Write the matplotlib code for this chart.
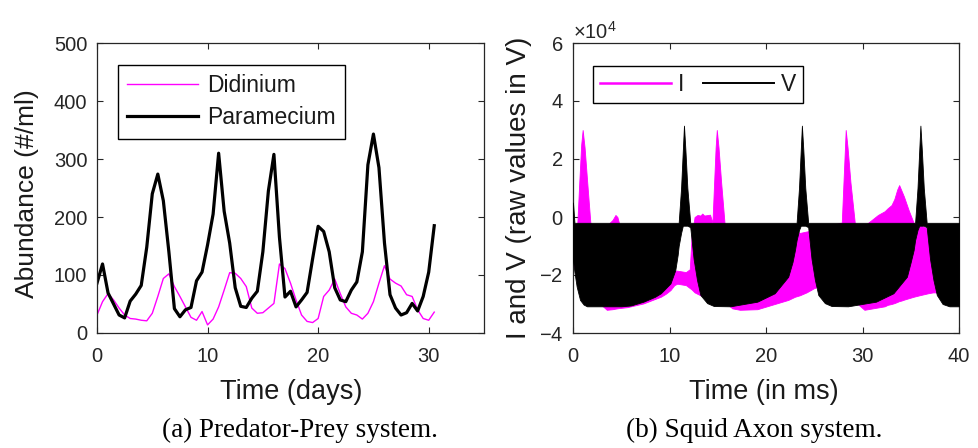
import matplotlib
matplotlib.use("Agg")
import matplotlib.pyplot as plt
from matplotlib.lines import Line2D
import numpy as np

# ---------------- data: (a) Predator-Prey ----------------
days = [0.0, 0.5, 1.0, 1.5, 2.0, 2.5, 3.0, 3.5, 4.0, 4.5,
        5.0, 5.5, 6.0, 6.5, 7.0, 7.5, 8.0, 8.5, 9.0, 9.5,
        10.0, 10.5, 11.0, 11.5, 12.0, 12.5, 13.0, 13.5, 14.0, 14.5,
        15.0, 15.5, 16.0, 16.5, 17.0, 17.5, 18.0, 18.5, 19.0, 19.5,
        20.0, 20.5, 21.0, 21.5, 22.0, 22.5, 23.0, 23.5, 24.0, 24.5,
        25.0, 25.5, 26.0, 26.5, 27.0, 27.5, 28.0, 28.5, 29.0, 29.5,
        30.0, 30.5]
didinium = [31, 54, 68, 57, 43, 31, 25, 24, 22, 21,
            34, 63, 94, 102, 80, 63, 45, 27, 22, 37,
            14, 24, 45, 74, 104, 103, 94, 80, 43, 34,
            35, 43, 51, 119, 111, 86, 57, 31, 20, 18,
            25, 63, 74, 93, 68, 45, 34, 31, 24, 34,
            54, 86, 116, 93, 86, 81, 66, 63, 40, 25,
            22, 36]
paramecium = [86, 119, 69, 50, 31, 26, 55, 67, 82, 148,
              240, 274, 228, 140, 42, 28, 40, 44, 90, 105,
              152, 205, 310, 210, 155, 78, 46, 44, 60, 72,
              140, 245, 308, 165, 62, 72, 45, 57, 70, 128,
              184, 175, 140, 78, 57, 54, 74, 88, 140, 290,
              343, 285, 155, 66, 43, 31, 35, 51, 38, 63,
              105, 185]

# ---------------- data: (b) Squid Axon (envelopes of the dense oscillation, x1e4) ----------------
t_I = [0.0, 0.3, 0.45, 0.65, 0.85, 1.0, 1.2, 1.45, 1.8, 2.0, 3.0, 3.5, 4.1, 4.4, 4.6, 4.8,
       5.6, 7.3, 9.1, 9.6, 10.1, 10.5, 10.8, 11.7, 12.1, 12.3, 12.6, 12.9, 13.2, 13.4, 13.6,
       14.2, 14.45, 14.6, 14.78, 14.9, 15.08, 15.35, 15.7, 16.0, 16.5, 17.3, 19.1, 20.9, 22.3,
       23.0, 23.5, 24.2, 25.0, 25.5, 26.5, 27.7, 27.85, 28.08, 28.26, 28.45, 28.75, 29.2, 29.5,
       30.2, 31.6, 32.3, 32.6, 33.0, 33.3, 33.6, 33.8, 34.05, 34.3, 34.8, 35.3, 35.9, 36.8,
       37.3, 38.0, 40.0]
I_hi = [-1.45, -1.0, -0.2, 1.2, 2.5, 3.0, 2.4, 1.3, -0.2, -0.3, -0.3, -0.3, -0.1, 0.07, 0.0, -0.25,
        -0.3, -0.3, -0.3, -0.5, -1.2, -1.85, -1.85, -1.9, -1.8, -0.6, 0.0, 0.07, 0.05, 0.12, 0.05,
        0.08, -0.2, 1.0, 2.4, 3.0, 2.4, 1.2, -0.2, -0.3, -0.3, -0.3, -0.3, -0.3, -0.3,
        -0.45, -0.55, -0.5, -0.45, -0.4, -0.3, -0.2, -0.2, 1.6, 3.0, 2.4, 1.2, -0.2, -0.3,
        -0.3, 0.07, 0.2, 0.3, 0.41, 0.62, 0.95, 1.1, 0.9, 0.7, 0.22, -0.2, -0.28, -0.4,
        -0.45, -0.4, -0.35]
I_lo = [-1.65, -1.8, -1.8, -1.8, -1.9, -1.9, -2.0, -2.1, -2.3, -2.5, -3.05, -3.2, -3.18, -3.16, -3.15, -3.14,
        -3.11, -2.98, -2.75, -2.65, -2.52, -2.35, -2.3, -2.35, -2.45, -2.5, -2.6, -2.65, -2.7, -2.72, -2.75,
        -2.8, -2.85, -2.85, -2.85, -2.9, -2.9, -2.9, -2.95, -3.0, -3.15, -3.2, -3.18, -3.0, -2.86,
        -2.75, -2.7, -2.6, -2.45, -2.4, -2.6, -2.8, -2.8, -2.85, -2.85, -2.85, -2.9, -2.95, -3.0,
        -3.2, -3.12, -3.08, -3.03, -3.0, -2.97, -2.93, -2.9, -2.88, -2.85, -2.8, -2.75, -2.7, -2.63,
        -2.6, -2.6, -2.6]

t_V = [0.0, 0.15, 0.38, 0.73, 1.1, 1.45, 5.0, 6.0, 7.3, 8.5, 9.1, 10.1, 10.6, 10.85, 10.95,
       11.2, 11.38, 11.5, 11.65, 11.85, 12.15, 12.5, 12.85, 13.2, 13.9, 14.6, 16.3, 19.1, 20.9,
       22.3, 22.75, 23.0, 23.17, 23.42, 23.6, 23.72, 23.87, 24.07, 24.37, 24.72, 25.07, 25.42,
       26.1, 26.8, 28.5, 31.4, 33.2, 34.6, 35.0, 35.3, 35.45, 35.7, 35.88, 36.0, 36.15, 36.35,
       36.65, 37.0, 37.35, 37.7, 38.3, 39.0, 40.0]
V_hi = [0.5, -0.2, -0.2, -0.2, -0.2, -0.2, -0.2, -0.2, -0.2, -0.2, -0.2, -0.2, -0.2, -0.2, -0.2,
        1.0, 2.3, 3.15, 2.3, 1.0, -0.2, -0.2, -0.2, -0.2, -0.2, -0.2, -0.2, -0.2, -0.2,
        -0.2, -0.2, -0.2, -0.2, 1.0, 2.3, 3.15, 2.3, 1.0, -0.2, -0.2, -0.2, -0.2,
        -0.2, -0.2, -0.2, -0.2, -0.2, -0.2, -0.2, -0.2, -0.2, 1.0, 2.3, 3.15, 2.3, 1.0,
        -0.2, -0.2, -0.2, -0.2, -0.2, -0.2, -0.2]
V_lo = [-1.5, -1.9, -2.4, -2.86, -3.02, -3.08, -3.08, -3.05, -2.92, -2.75, -2.63, -2.29, -1.83, -1.3, -1.0,
        -0.55, -0.3, -0.3, -0.3, -0.3, -0.35, -1.45, -2.17, -2.69, -2.97, -3.07, -3.08, -2.92, -2.63,
        -2.06, -1.55, -1.14, -0.8, -0.45, -0.3, -0.3, -0.3, -0.3, -0.35, -1.45, -2.17, -2.69,
        -2.97, -3.07, -3.08, -2.92, -2.63, -2.06, -1.55, -1.14, -0.8, -0.45, -0.3, -0.3, -0.3, -0.3,
        -0.35, -1.45, -2.17, -2.69, -3.0, -3.08, -3.08]
SCALE = 1e4

# ---------------- style ----------------
plt.rcParams['font.family'] = ['Liberation Sans', 'DejaVu Sans']
plt.rcParams['mathtext.fontset'] = 'custom'
plt.rcParams['mathtext.rm'] = 'Liberation Sans'
plt.rcParams['mathtext.it'] = 'Liberation Sans:italic'
plt.rcParams['mathtext.bf'] = 'Liberation Sans:bold'

MAG = '#ff00ff'
AX_COL = '#262626'
TXT = '#1a1a1a'
W, H = 979, 448

fig = plt.figure(figsize=(W / 100, H / 100), dpi=100)


def px_axes(x0, y0, x1, y1):
    return fig.add_axes([x0 / W, 1 - y1 / H, (x1 - x0) / W, (y1 - y0) / H])


def style(ax):
    for s in ax.spines.values():
        s.set_color(AX_COL)
        s.set_linewidth(0.9)
    ax.tick_params(direction='in', top=True, right=True, length=4, width=0.8,
                   color=AX_COL, labelcolor=AX_COL, labelsize=14.5)
    ax.tick_params(axis='x', pad=10)
    ax.tick_params(axis='y', pad=7)


# (a)
ax1 = px_axes(97, 43, 484, 333)
ax1.plot(days, didinium, color=MAG, lw=1.0, label='Didinium')
ax1.plot(days, paramecium, color='black', lw=2.3, label='Paramecium')
ax1.set_xlim(0, 35)
ax1.set_ylim(0, 500)
ax1.set_xticks([0, 10, 20, 30])
ax1.set_yticks([0, 100, 200, 300, 400, 500])
style(ax1)
leg1 = ax1.legend(loc='upper left', bbox_to_anchor=(0.054, 0.924), borderaxespad=0,
                  fontsize=16.5, handlelength=3.1, handletextpad=0.4, labelspacing=0.4,
                  borderpad=0.4, fancybox=False, framealpha=1, edgecolor='black')
leg1.get_frame().set_linewidth(1.0)
for t in leg1.get_texts():
    t.set_color(TXT)

# (b)
ax2 = px_axes(573, 43, 959, 333)
ax2.fill_between(t_I, np.array(I_lo) * SCALE, np.array(I_hi) * SCALE,
                 color=MAG, lw=0.6, edgecolor=MAG, zorder=2)
ax2.fill_between(t_V, np.array(V_lo) * SCALE, np.array(V_hi) * SCALE,
                 color='black', lw=0.6, edgecolor='black', zorder=3)
ax2.set_xlim(0, 40)
ax2.set_ylim(-4e4, 6e4)
ax2.set_xticks([0, 10, 20, 30, 40])
ax2.set_yticks([-4e4, -2e4, 0, 2e4, 4e4, 6e4])
ax2.ticklabel_format(axis='y', style='sci', scilimits=(4, 4), useMathText=True)
style(ax2)
ax2.yaxis.get_offset_text().set_fontsize(14.5)
ax2.yaxis.get_offset_text().set_color(AX_COL)
handles = [Line2D([], [], color=MAG, lw=1.8), Line2D([], [], color='black', lw=1.4)]
leg2 = ax2.legend(handles, ['I', 'V'], ncol=2, loc='upper left', bbox_to_anchor=(0.052, 0.921),
                  borderaxespad=0, fontsize=16.5, handlelength=3.1, handletextpad=0.3,
                  columnspacing=0.8, borderpad=0.3, fancybox=False, framealpha=1,
                  edgecolor='black')
leg2.get_frame().set_linewidth(1.0)
leg2.set_zorder(10)
for t in leg2.get_texts():
    t.set_color(TXT)

# labels
fig.text(27 / W, 1 - 194 / H, 'Abundance (#/ml)', rotation=90, ha='center', va='center',
         fontsize=19, color=TXT)
fig.text(519 / W, 1 - 188 / H, 'I and V (raw values in V)', rotation=90, ha='center', va='center',
         fontsize=20, color=TXT)
fig.text(291 / W, 1 - 392 / H, 'Time (days)', ha='center', va='center', fontsize=19.5, color=TXT)
fig.text(764 / W, 1 - 392 / H, 'Time (in ms)', ha='center', va='center', fontsize=19.5, color=TXT)
fig.text(300 / W, 1 - 430 / H, '(a) Predator-Prey system.', ha='center', va='center',
         fontsize=19.5, family='Liberation Serif', color='black')
fig.text(754 / W, 1 - 430 / H, '(b) Squid Axon system.', ha='center', va='center',
         fontsize=19.5, family='Liberation Serif', color='black')

fig.savefig('out.png', dpi=100)
